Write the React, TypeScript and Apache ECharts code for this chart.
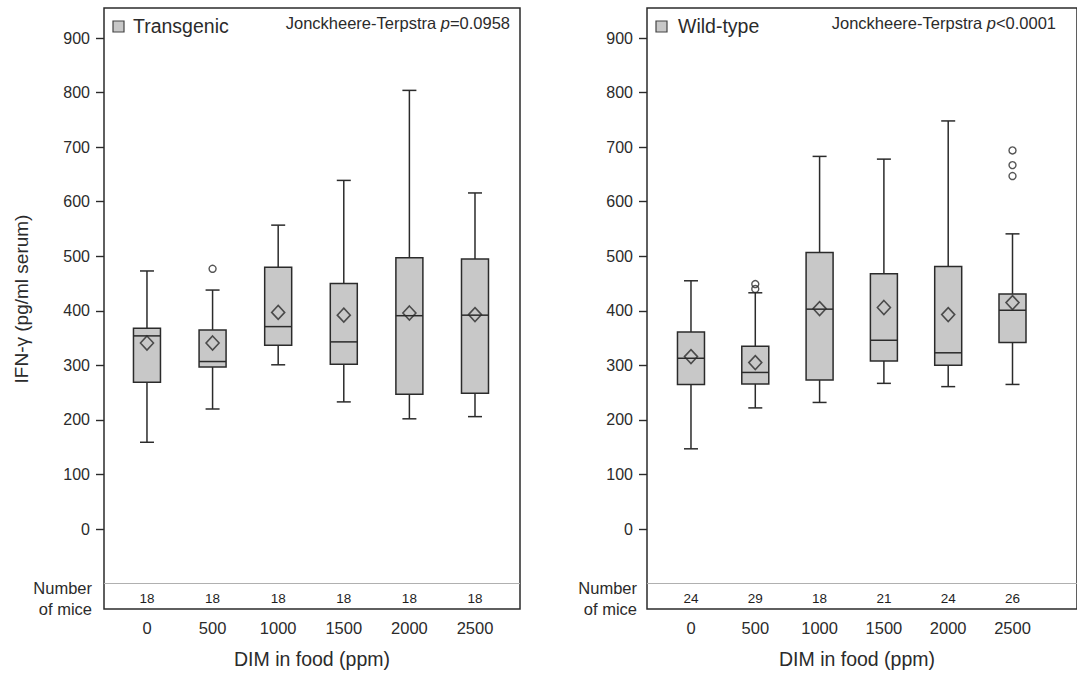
import React, { useEffect, useRef } from "react";
import * as echarts from "echarts";

const doses = ["0", "500", "1000", "1500", "2000", "2500"];
const yTicks = [0, 100, 200, 300, 400, 500, 600, 700, 800, 900];

// Transgenic
const tgLow = [159, 220, 301, 233, 202, 206];
const tgQ1 = [269, 297, 337, 302, 247, 249];
const tgMedian = [354, 307, 371, 343, 391, 392];
const tgQ3 = [368, 365, 480, 450, 497, 495];
const tgHigh = [473, 438, 557, 639, 804, 616];
const tgMean = [341, 341, 397, 392, 396, 393];
const tgOutliers = [[1, 477]];
const tgCounts = [18, 18, 18, 18, 18, 18];

// Wild-type
const wtLow = [147, 222, 232, 267, 261, 265];
const wtQ1 = [265, 266, 273, 308, 300, 342];
const wtMedian = [313, 287, 403, 346, 323, 401];
const wtQ3 = [361, 335, 507, 468, 481, 431];
const wtHigh = [455, 433, 683, 678, 748, 541];
const wtMean = [316, 305, 404, 406, 393, 415];
const wtOutliers = [[1, 449], [1, 440], [5, 694], [5, 667], [5, 647]];
const wtCounts = [24, 29, 18, 21, 24, 26];

const FONT = "'Liberation Sans', Arial, sans-serif";
const DARK = "#2b2b2b";
const FILL = "#c8c8c8";
const COUNT_Y = -126.5;

function boxData(lo: number[], q1: number[], med: number[], q3: number[], hi: number[]) {
  return lo.map((_, i) => [i, lo[i], q1[i], med[i], q3[i], hi[i]]);
}

function renderBox(params: any, api: any) {
  const x = api.value(0);
  const lo = api.coord([x, api.value(1)]);
  const q1 = api.coord([x, api.value(2)]);
  const med = api.coord([x, api.value(3)]);
  const q3 = api.coord([x, api.value(4)]);
  const hi = api.coord([x, api.value(5)]);
  const cx = lo[0];
  const bw = 27;
  const cw = 14;
  const st = { stroke: DARK, lineWidth: 1.5, fill: null };
  return {
    type: "group",
    children: [
      { type: "line", shape: { x1: cx, y1: hi[1], x2: cx, y2: q3[1] }, style: st },
      { type: "line", shape: { x1: cx, y1: q1[1], x2: cx, y2: lo[1] }, style: st },
      { type: "line", shape: { x1: cx - cw / 2, y1: hi[1], x2: cx + cw / 2, y2: hi[1] }, style: st },
      { type: "line", shape: { x1: cx - cw / 2, y1: lo[1], x2: cx + cw / 2, y2: lo[1] }, style: st },
      {
        type: "rect",
        shape: { x: cx - bw / 2, y: q3[1], width: bw, height: q1[1] - q3[1] },
        style: { fill: FILL, stroke: DARK, lineWidth: 1.5 },
      },
      { type: "line", shape: { x1: cx - bw / 2, y1: med[1], x2: cx + bw / 2, y2: med[1] }, style: st },
    ],
  };
}

function renderCount(params: any, api: any) {
  const p = api.coord([api.value(0), api.value(1)]);
  return {
    type: "text",
    x: p[0],
    y: p[1],
    style: {
      text: String(api.value(2)),
      fontSize: 13.5,
      fontFamily: FONT,
      fill: "#1e1e1e",
      align: "center",
      verticalAlign: "middle",
    },
  };
}

function panelSeries(idx: number, name: string, lo: number[], q1: number[], med: number[], q3: number[], hi: number[], mean: number[], outliers: number[][], counts: number[]) {
  return [
    {
      type: "custom",
      name,
      xAxisIndex: idx,
      yAxisIndex: idx,
      renderItem: renderBox,
      encode: { x: 0, y: [1, 2, 3, 4, 5] },
      data: boxData(lo, q1, med, q3, hi),
      z: 2,
    },
    {
      type: "scatter",
      name: name + " mean",
      xAxisIndex: idx,
      yAxisIndex: idx,
      symbol: "diamond",
      symbolSize: [13, 14],
      itemStyle: { color: "rgba(0,0,0,0)", borderColor: DARK, borderWidth: 1.6 },
      data: mean.map((v, i) => [i, v]),
      z: 3,
    },
    {
      type: "scatter",
      name: name + " outliers",
      xAxisIndex: idx,
      yAxisIndex: idx,
      symbol: "circle",
      symbolSize: 7,
      itemStyle: { color: "rgba(0,0,0,0)", borderColor: DARK, borderWidth: 1.4 },
      data: outliers,
      z: 3,
    },
    {
      type: "custom",
      name: name + " counts",
      xAxisIndex: idx,
      yAxisIndex: idx,
      renderItem: renderCount,
      encode: { x: 0, y: 1 },
      data: counts.map((c, i) => [i, COUNT_Y, c]),
      markLine: {
        silent: true,
        symbol: "none",
        label: { show: false },
        lineStyle: { color: "#b0b0b0", width: 1, type: "solid" },
        data: [{ yAxis: -100 }],
      },
      z: 3,
    },
  ];
}

function makeYAxis(idx: number) {
  return {
    type: "value",
    gridIndex: idx,
    min: -146.6,
    max: 955,
    axisLine: { show: false, onZero: false },
    splitLine: { show: false },
    axisTick: { show: true, length: 8, customValues: yTicks, lineStyle: { color: DARK, width: 1.4 } },
    axisLabel: { customValues: yTicks, margin: 14, fontSize: 16, fontFamily: FONT, color: DARK },
  };
}

function makeXAxis(idx: number, min: number, max: number) {
  return {
    type: "value",
    gridIndex: idx,
    min,
    max,
    axisLine: { show: false, onZero: false },
    splitLine: { show: false },
    axisTick: { show: false },
    axisLabel: {
      customValues: [0, 1, 2, 3, 4, 5],
      formatter: (v: number) => doses[Math.round(v)] ?? "",
      margin: 10,
      fontSize: 16.5,
      fontFamily: FONT,
      color: DARK,
    },
  };
}

function jtText(x: number, pStr: string) {
  return {
    type: "text",
    x,
    y: 23,
    style: {
      text: "{a|Jonckheere-Terpstra }{i|p}{a|" + pStr + "}",
      align: "right",
      verticalAlign: "middle",
      rich: {
        a: { fontSize: 16.5, fontFamily: FONT, fill: DARK },
        i: { fontSize: 16.5, fontFamily: FONT, fontStyle: "italic", fill: DARK },
      },
    },
  };
}

export default function App() {
  const ref = useRef<HTMLDivElement>(null);
  useEffect(() => {
    if (!ref.current) return;
    const chart = echarts.init(ref.current, null, { renderer: "svg" });
    chart.setOption({
      animation: false,
      backgroundColor: "#ffffff",
      grid: [
        { left: 104, top: 8, width: 416, height: 601, show: true, borderColor: DARK, borderWidth: 1.5, backgroundColor: "transparent" },
        { left: 647, top: 8, width: 440, height: 601, show: true, borderColor: DARK, borderWidth: 1.5, backgroundColor: "transparent" },
      ],
      xAxis: [makeXAxis(0, -0.655, 5.686), makeXAxis(1, -0.684, 6.003)],
      yAxis: [makeYAxis(0), makeYAxis(1)],
      series: [
        ...panelSeries(0, "Transgenic", tgLow, tgQ1, tgMedian, tgQ3, tgHigh, tgMean, tgOutliers, tgCounts),
        ...panelSeries(1, "Wild-type", wtLow, wtQ1, wtMedian, wtQ3, wtHigh, wtMean, wtOutliers, wtCounts),
      ],
      graphic: [
        { type: "rect", shape: { x: 113, y: 21, width: 11, height: 11 }, style: { fill: FILL, stroke: "#444", lineWidth: 1.2 } },
        { type: "text", x: 133, y: 26, style: { text: "Transgenic", fontSize: 19.5, fontFamily: FONT, fill: DARK, verticalAlign: "middle" } },
        { type: "rect", shape: { x: 656, y: 21, width: 11, height: 11 }, style: { fill: FILL, stroke: "#444", lineWidth: 1.2 } },
        { type: "text", x: 678, y: 26, style: { text: "Wild-type", fontSize: 19.5, fontFamily: FONT, fill: DARK, verticalAlign: "middle" } },
        jtText(510, "=0.0958"),
        jtText(1056, "<0.0001"),
        {
          type: "text",
          x: 21,
          y: 299,
          rotation: Math.PI / 2,
          style: { text: "IFN-γ (pg/ml serum)", fontSize: 19, fontFamily: FONT, fill: DARK, align: "center", verticalAlign: "middle" },
        },
        { type: "text", x: 92, y: 598.5, style: { text: "Number\nof mice", fontSize: 16.5, lineHeight: 21, fontFamily: FONT, fill: DARK, align: "right", verticalAlign: "middle" } },
        { type: "text", x: 637, y: 598.5, style: { text: "Number\nof mice", fontSize: 16.5, lineHeight: 21, fontFamily: FONT, fill: DARK, align: "right", verticalAlign: "middle" } },
        { type: "text", x: 312, y: 659, style: { text: "DIM in food (ppm)", fontSize: 19.5, fontFamily: FONT, fill: DARK, align: "center", verticalAlign: "middle" } },
        { type: "text", x: 857, y: 659, style: { text: "DIM in food (ppm)", fontSize: 19.5, fontFamily: FONT, fill: DARK, align: "center", verticalAlign: "middle" } },
      ],
    });
    return () => chart.dispose();
  }, []);
  return (
    <div
      ref={ref}
      style={{ position: "fixed", left: 0, top: 0, width: 1077, height: 673, background: "#fff" }}
    />
  );
}
